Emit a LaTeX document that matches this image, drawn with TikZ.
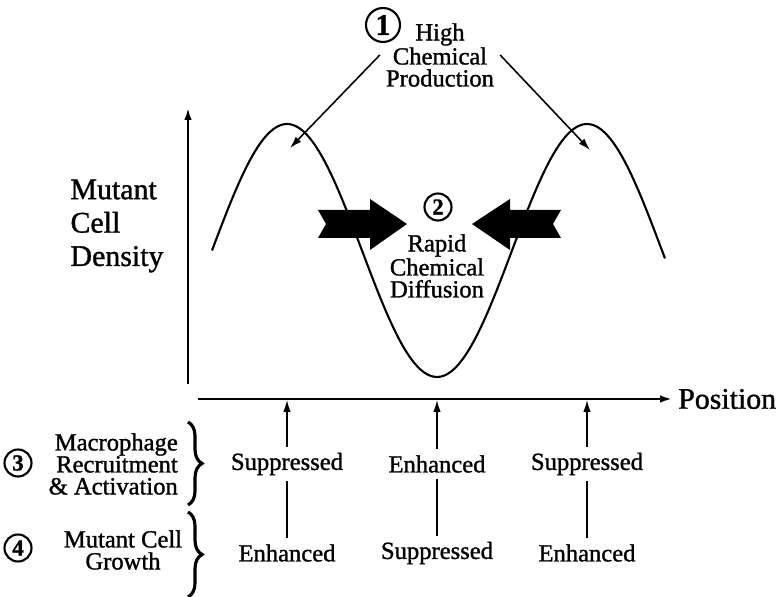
\documentclass[tikz,border=0pt]{standalone}
\usepackage{fontspec}
\setmainfont{Liberation Serif}[FakeBold=1.2]
\usetikzlibrary{arrows.meta,decorations.pathreplacing}

\begin{document}
\begin{tikzpicture}[x=0.02cm, y=-0.02cm,
  every node/.style={font=\fontsize{14}{12.5}\selectfont, align=center},
  big/.style={font=\fontsize{17}{19}\selectfont},
  num/.style={circle, draw, line width=1.2pt, inner sep=0pt, minimum size=5.4mm,
    font=\fontsize{13}{13}\selectfont\bfseries},
  brc/.style={decorate, decoration={brace, amplitude=8pt}, line width=1.8pt},
  >={Latex[length=2.4mm,width=1.5mm]}]
\useasboundingbox (0,0) rectangle (779,597);
% axes and curve
\coordinate (ybot) at (188,384);
\coordinate (ytop) at (188,108);
\coordinate (xl) at (198,399);
\node[big, anchor=west] (pos) at (672,399) {Position};
\draw[->, line width=1.2pt] (ybot) -- (ytop);
\draw[->, line width=1.2pt] (xl) -- (pos);
\draw[line width=1.2pt] plot[domain=212:665, samples=100, smooth]
  (\x, {250.5-126.5*cos(1.2*(\x-287))});
\node[big, align=left] (mcd) at (117,226) {Mutant\\Cell\\Density};
% 1
\node[num, minimum size=6.8mm, font=\fontsize{17}{17}\selectfont\bfseries] (n1) at (383,25) {1};
\node (hcp) at (440,55) {High\\Chemical\\Production};
\coordinate (pkl) at (290,148);
\coordinate (pkr) at (590,150);
\draw[->, line width=0.9pt] (hcp.west) -- (pkl);
\draw[->, line width=0.9pt] (hcp.east) -- (pkr);
% 2
\node[num] (n2) at (438,207) {2};
\node (rcd) at (437,266) {Rapid\\Chemical\\Diffusion};
\fill (318,210) -- (370,210) -- (370,199) -- (407,224) -- (370,250) -- (370,238)
  -- (318,238) -- (326,224) -- cycle;
\fill (561,210) -- (510,210) -- (510,199) -- (472,224) -- (510,250) -- (510,238)
  -- (561,238) -- (553,224) -- cycle;
% 3 and 4
\node[num] (n3) at (18,463) {3};
\node[align=right, anchor=east] (mra) at (184,464) {Macrophage\\Recruitment\\\& Activation};
\node[num] (n4) at (18,548) {4};
\node (mcg) at (123,550) {Mutant Cell\\Growth};
\draw[brc] (188,422) -- (188,505);
\draw[brc] (188,512) -- (188,597);
\foreach \x/\a/\b [count=\i] in {287/Suppressed/Enhanced, 437/Enhanced/Suppressed,
    587/Suppressed/Enhanced} {
  \coordinate (t\i) at (\x,400);
  \node (r\i) at (\x,464) {\a};
  \node (s\i) at (\x,553) {\b};
  \draw[line width=0.8pt] (s\i) -- (r\i);
  \draw[->, line width=0.8pt] (r\i) -- (t\i);
}
\end{tikzpicture}
\end{document}
